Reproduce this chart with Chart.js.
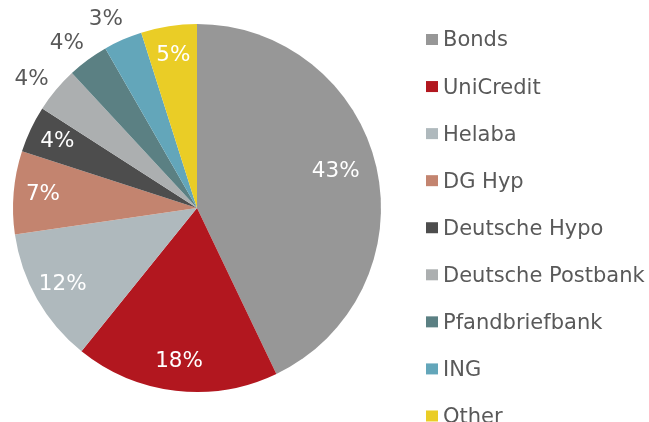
<!DOCTYPE html>
<html>
<head>
<meta charset="utf-8">
<script src="https://cdn.jsdelivr.net/npm/chart.js@4/dist/chart.umd.min.js"></script>
<style>
  html, body { margin: 0; padding: 0; background: #ffffff; }
  #wrap { width: 649px; height: 422px; position: relative; }
</style>
</head>
<body>
<div id="wrap"><canvas id="c" width="649" height="422"></canvas></div>
<script>
const categories = ["Bonds", "UniCredit", "Helaba", "DG Hyp", "Deutsche Hypo", "Deutsche Postbank", "Pfandbriefbank", "ING", "Other"];
const shares = [42.9, 17.9, 11.9, 7.3, 4.1, 4.0, 3.6, 3.4, 4.9];
const sliceColors = ["#979797", "#B2171F", "#AFB9BD", "#C3846F", "#4D4D4D", "#ACAFB0", "#5B8083", "#63A6BA", "#EACD26"];
const outsideLabelNames = ["Deutsche Postbank", "Pfandbriefbank", "ING"];

const FONT = "'DejaVu Sans', Verdana, sans-serif";

const sliceLabels = {
  id: 'sliceLabels',
  afterDatasetsDraw(chart) {
    const ctx = chart.ctx;
    const meta = chart.getDatasetMeta(0);
    const ds = chart.data.datasets[0];
    ctx.save();
    ctx.font = "21.5px " + FONT;
    ctx.textAlign = 'center';
    ctx.textBaseline = 'middle';
    meta.data.forEach((arc, i) => {
      const p = arc.getProps(['x', 'y', 'startAngle', 'endAngle', 'outerRadius'], true);
      let mid = (p.startAngle + p.endAngle) / 2;
      const outside = outsideLabelNames.includes(chart.data.labels[i]);
      let frac = outside ? 1.14 : 0.84;
      if (outside) mid -= 0.035;
      if (i === 0) { frac = 0.78; mid -= 0.035; }
      const x = p.x + Math.cos(mid) * p.outerRadius * frac;
      const y = p.y + Math.sin(mid) * p.outerRadius * frac;
      ctx.fillStyle = outside ? '#595959' : '#ffffff';
      ctx.fillText(Math.round(ds.data[i]) + '%', x, y);
    });
    ctx.restore();
  }
};

const sideLegend = {
  id: 'sideLegend',
  afterDraw(chart) {
    const ctx = chart.ctx;
    const ds = chart.data.datasets[0];
    ctx.save();
    ctx.font = "21px " + FONT;
    ctx.textAlign = 'left';
    ctx.textBaseline = 'middle';
    chart.data.labels.forEach((lab, i) => {
      const cy = 40 + i * 47.06;
      ctx.fillStyle = ds.backgroundColor[i];
      ctx.fillRect(426, cy - 6, 12, 11);
      ctx.fillStyle = '#595959';
      ctx.fillText(lab, 443, cy + 1);
    });
    ctx.restore();
  }
};

new Chart(document.getElementById('c'), {
  type: 'pie',
  data: {
    labels: categories,
    datasets: [{
      data: shares,
      backgroundColor: sliceColors,
      borderWidth: 0
    }]
  },
  options: {
    responsive: false,
    animation: false,
    layout: { padding: { left: 13, right: 268, top: 24, bottom: 30 } },
    plugins: {
      legend: { display: false },
      tooltip: { enabled: false }
    }
  },
  plugins: [sliceLabels, sideLegend]
});
</script>
</body>
</html>
